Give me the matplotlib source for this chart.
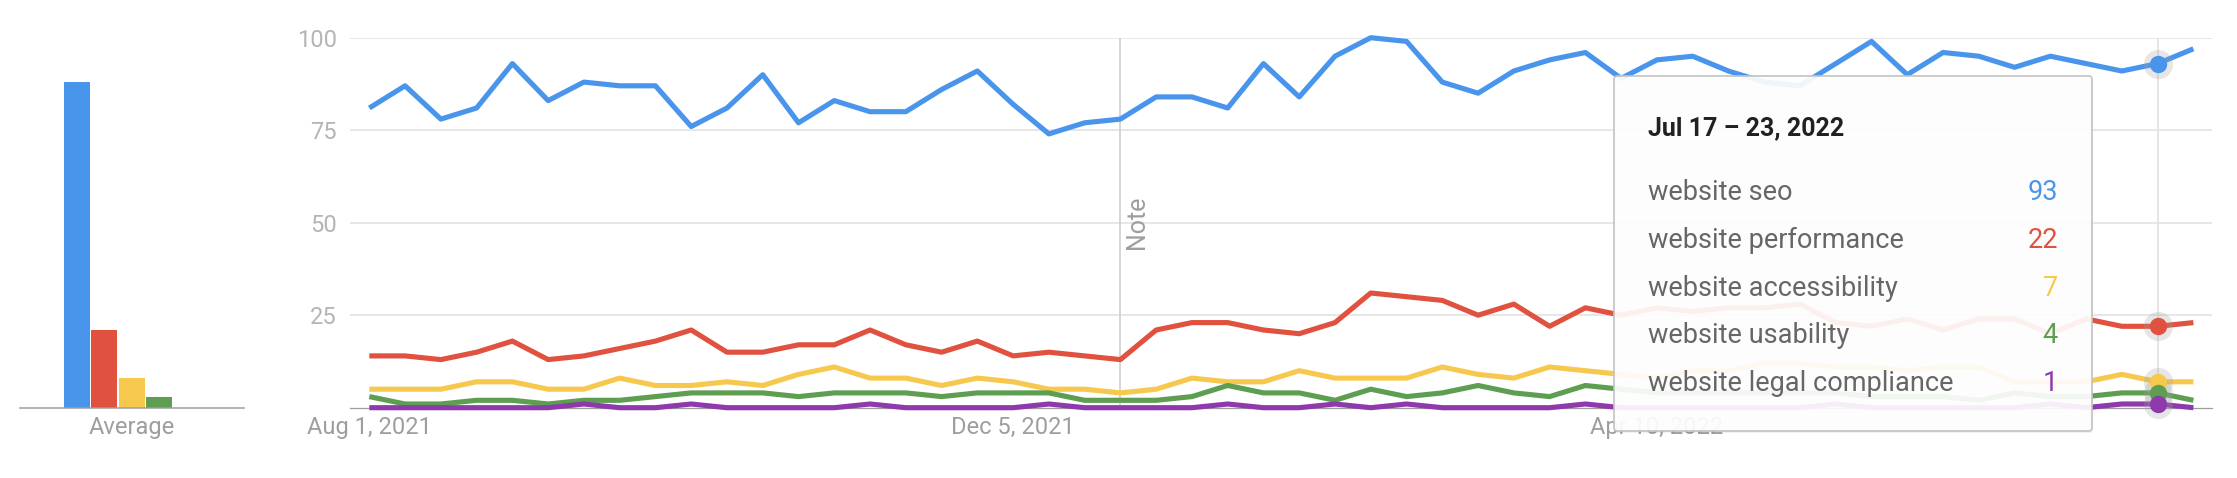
import datetime as dt

import numpy as np
import matplotlib
matplotlib.use("Agg")
import matplotlib.pyplot as plt
from matplotlib.patches import FancyBboxPatch

plt.rcParams['font.family'] = ['Roboto', 'DejaVu Sans']

# weekly interest, starting Aug 1, 2021
terms = ["website seo", "website performance", "website accessibility",
         "website usability", "website legal compliance"]
colors = ["#4a95ec", "#e0523f", "#f6c94e", "#5d9e50", "#8e39ac"]

seo = [81, 87, 78, 81, 93, 83, 88, 87, 87, 76, 81, 90, 77,
       83, 80, 80, 86, 91, 82, 74, 77, 78, 84, 84, 81, 93,
       84, 95, 100, 99, 88, 85, 91, 94, 96, 89, 94, 95, 91,
       88, 87, 93, 99, 90, 96, 95, 92, 95, 93, 91, 93, 97]
performance = [14, 14, 13, 15, 18, 13, 14, 16, 18, 21, 15, 15, 17,
               17, 21, 17, 15, 18, 14, 15, 14, 13, 21, 23, 23, 21,
               20, 23, 31, 30, 29, 25, 28, 22, 27, 25, 27, 26, 27,
               27, 28, 23, 22, 24, 21, 24, 24, 20, 24, 22, 22, 23]
accessibility = [5, 5, 5, 7, 7, 5, 5, 8, 6, 6, 7, 6, 9,
                 11, 8, 8, 6, 8, 7, 5, 5, 4, 5, 8, 7, 7,
                 10, 8, 8, 8, 11, 9, 8, 11, 10, 9, 8, 10, 10,
                 12, 12, 11, 11, 10, 11, 11, 7, 7, 7, 9, 7, 7]
usability = [3, 1, 1, 2, 2, 1, 2, 2, 3, 4, 4, 4, 3,
             4, 4, 4, 3, 4, 4, 4, 2, 2, 2, 3, 6, 4,
             4, 2, 5, 3, 4, 6, 4, 3, 6, 5, 4, 4, 4,
             4, 4, 4, 3, 3, 3, 2, 4, 3, 3, 4, 4, 2]
legal = [0, 0, 0, 0, 0, 0, 1, 0, 0, 1, 0, 0, 0,
         0, 1, 0, 0, 0, 0, 1, 0, 0, 0, 0, 1, 0,
         0, 1, 0, 1, 0, 0, 0, 0, 1, 0, 0, 0, 0,
         0, 0, 1, 0, 0, 0, 0, 0, 1, 0, 1, 1, 0]
averages = [88, 21, 8, 3, 0]

series = [seo, performance, accessibility, usability, legal]
start = dt.date(2021, 8, 1)
label_weeks = [0, 18, 36]
note_week = 21
hover = 50

W, H = 2237, 478
fig = plt.figure(figsize=(W / 100, H / 100), dpi=100)

y0, y100 = 407.7, 37.7  # pixel rows of 0 and 100
bottom = (H - y0) / H
height = (y0 - y100) / H

# ---- average bars ----
axb = fig.add_axes([20 / W, bottom, 224 / W, height])
axb.bar(np.arange(len(averages)), averages, width=0.95, color=colors)
axb.set_xlim(-2.09, 6.12)
axb.set_ylim(0, 100)
axb.set_yticks([])
axb.set_xticks([2], ["Average"])
axb.tick_params(axis='x', length=0, pad=6, labelsize=17, labelcolor="#9e9e9e")
for s in ["top", "right", "left"]:
    axb.spines[s].set_visible(False)
axb.spines["bottom"].set_color("#9e9e9e")
axb.spines["bottom"].set_linewidth(1.1)

# ---- lines ----
ax = fig.add_axes([350 / W, bottom, (2212 - 350) / W, height])
x = np.arange(len(seo))
for vals, c in zip(series, colors):
    ax.plot(x, vals, color=c, lw=3.7, solid_joinstyle='round',
            solid_capstyle='butt', clip_on=False, zorder=3)

ax.set_xlim(-0.54, 51.52)
ax.set_ylim(0, 100)
ax.set_yticks([25, 50, 75, 100])
ax.set_axisbelow(True)
ax.yaxis.grid(True, color="#e0e0e0", lw=1.1)
dates = [start + dt.timedelta(weeks=int(i)) for i in label_weeks]
ax.set_xticks(label_weeks, [f"{d:%b} {d.day}, {d.year}" for d in dates])
ax.tick_params(axis='x', length=0, pad=6, labelsize=17, labelcolor="#9e9e9e")
ax.tick_params(axis='y', length=0, pad=9.5, labelsize=17, labelcolor="#b5b5b5")
for s in ["top", "right", "left"]:
    ax.spines[s].set_visible(False)
ax.spines["bottom"].set_color("#9e9e9e")
ax.spines["bottom"].set_linewidth(0.9)

# note marker
ax.axvline(note_week, color="#cccccc", lw=1.1, zorder=2)
ax.text(note_week + 0.46, 50, "Note", rotation=90, ha="center", va="center",
        fontsize=18, color="#9e9e9e")

# hover line and dots
ax.axvline(hover, color="#e3e3e3", lw=1.3, zorder=2)
for vals, c in zip(series, colors):
    ax.plot(hover, vals[hover], "o", ms=21, color="#9e9e9e", alpha=0.25,
            mec="none", clip_on=False, zorder=4)
    ax.plot(hover, vals[hover], "o", ms=12.5, color=c, mec="none",
            clip_on=False, zorder=5)

# ---- tooltip ----
bx0, bx1, by0, by1 = 1614, 2092, 76, 431
shadow = FancyBboxPatch(((bx0 + 1) / W, (H - by1 - 2) / H), (bx1 - bx0) / W,
                        (by1 - by0) / H, boxstyle="round,pad=0,rounding_size=0.0015",
                        mutation_aspect=W / H, transform=fig.transFigure,
                        fc="#000000", ec="none", alpha=0.06, zorder=9)
box = FancyBboxPatch((bx0 / W, (H - by1) / H), (bx1 - bx0) / W,
                     (by1 - by0) / H, boxstyle="round,pad=0,rounding_size=0.0015",
                     mutation_aspect=W / H, transform=fig.transFigure,
                     fc=(1, 1, 1, 0.92), ec="#c2c2c2", lw=1.2, zorder=10)
fig.add_artist(shadow)
fig.add_artist(box)

d0 = start + dt.timedelta(weeks=hover)
d1 = d0 + dt.timedelta(days=6)
fig.text(1648 / W, 1 - 135 / H, f"{d0:%b} {d0.day} – {d1.day}, {d1.year}",
         ha="left", va="baseline", fontsize=18, fontweight="bold",
         color="#202124", zorder=11)
for k, (name, vals, c) in enumerate(zip(terms, series, colors)):
    yb = 1 - (200 + 47.8 * k) / H
    fig.text(1648 / W, yb, name, ha="left", va="baseline", fontsize=19.5,
             color="#666666", zorder=11)
    fig.text(2058 / W, yb, str(vals[hover]), ha="right", va="baseline",
             fontsize=19.5, color=c, zorder=11)

fig.savefig("out.png", dpi=100)
